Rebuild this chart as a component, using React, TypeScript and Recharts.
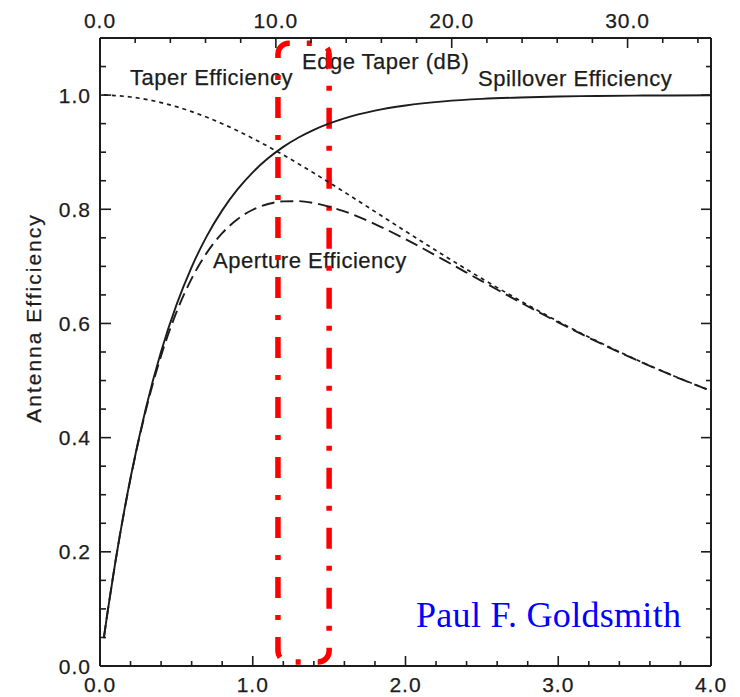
import React from 'react';
import { LineChart, Line, XAxis, YAxis, ReferenceArea } from 'recharts';

// Normalised edge taper parameter (bottom axis)
const alpha = [0.025, 0.05, 0.1, 0.2, 0.3, 0.4, 0.5, 0.6, 0.7, 0.8, 0.9, 1.0, 1.1, 1.2, 1.3, 1.4, 1.6, 1.8, 2.0, 2.25, 2.5, 2.75, 3.0, 3.25, 3.5, 3.75, 4.0];
const spillover = [0.0488, 0.0952, 0.1813, 0.3297, 0.4512, 0.5507, 0.6321, 0.6988, 0.7534, 0.7981, 0.8347, 0.8647, 0.8892, 0.9093, 0.9257, 0.9392, 0.9592, 0.9727, 0.9817, 0.9889, 0.9933, 0.9959, 0.9975, 0.9985, 0.9991, 0.9994, 0.9997];
const taperEff = [1.0, 0.9998, 0.9992, 0.9967, 0.9926, 0.9869, 0.9797, 0.971, 0.9611, 0.9499, 0.9376, 0.9242, 0.91, 0.8951, 0.8795, 0.8634, 0.8301, 0.7959, 0.7616, 0.7194, 0.6786, 0.64, 0.6034, 0.5695, 0.5379, 0.5088, 0.482];
const apertureEff = [0.0488, 0.0951, 0.1811, 0.3286, 0.4478, 0.5434, 0.6193, 0.6786, 0.7241, 0.7581, 0.7826, 0.7992, 0.8092, 0.8139, 0.8142, 0.8109, 0.7962, 0.7741, 0.7476, 0.7114, 0.6741, 0.6373, 0.6019, 0.5686, 0.5374, 0.5085, 0.482];

// Axis ticks
const xMajor = [0, 1, 2, 3, 4];
const xMinor = [0.2, 0.4, 0.6, 0.8, 1.2, 1.4, 1.6, 1.8, 2.2, 2.4, 2.6, 2.8, 3.2, 3.4, 3.6, 3.8];
const dbMajor = [0, 10, 20, 30];
const dbMinor = [2, 4, 6, 8, 12, 14, 16, 18, 22, 24, 26, 28, 32, 34];
const yMajor = [0, 0.2, 0.4, 0.6, 0.8, 1.0];
const yMinor = [0.05, 0.1, 0.15, 0.25, 0.3, 0.35, 0.45, 0.5, 0.55, 0.65, 0.7, 0.75, 0.85, 0.9, 0.95, 1.05];

const DB_PER_ALPHA = 8.686; // edge taper in dB per unit of the bottom-axis parameter
const dbMax = 4 * DB_PER_ALPHA;
const highlightX = [1.165, 1.5];
const highlightY = [0.007, 1.091];

const data = alpha.map((a, i) => ({
  alpha: a,
  spill: spillover[i],
  taper: taperEff[i],
  aper: apertureEff[i],
}));

const INK = '#1c1c1c';
const FONT = '"Liberation Sans", Arial, Helvetica, sans-serif';
const W = 740;
const H = 697;
const M = { top: 37, left: 99, right: 28, bottom: 30 };

const isMajor = (v: number, arr: number[]) => arr.some((m) => Math.abs(m - v) < 1e-6);
const sortAll = (a: number[], b: number[]) => [...a, ...b].sort((p, q) => p - q);

const labelStyle = { fontFamily: FONT, fontSize: 21, letterSpacing: 1, fill: INK, stroke: INK, strokeWidth: 0.25 } as const;

const BottomTick = (p: any) => {
  const v = p.payload.value;
  const maj = isMajor(v, xMajor);
  return (
    <g>
      <line x1={p.x} x2={p.x} y1={p.y} y2={p.y - (maj ? 10 : 5)} stroke={INK} strokeWidth={1.6} />
      {maj && (
        <text x={p.x} y={p.y + 26} textAnchor="middle" {...labelStyle}>
          {v.toFixed(1)}
        </text>
      )}
    </g>
  );
};

const TopTick = (p: any) => {
  const v = p.payload.value;
  const maj = isMajor(v, dbMajor);
  return (
    <g>
      <line x1={p.x} x2={p.x} y1={p.y} y2={p.y + (maj ? 10 : 5)} stroke={INK} strokeWidth={1.6} />
      {maj && (
        <text x={p.x} y={p.y - 10} textAnchor="middle" {...labelStyle}>
          {v.toFixed(1)}
        </text>
      )}
    </g>
  );
};

const LeftTick = (p: any) => {
  const v = p.payload.value;
  const maj = isMajor(v, yMajor);
  return (
    <g>
      <line x1={p.x} x2={p.x + (maj ? 11 : 6)} y1={p.y} y2={p.y} stroke={INK} strokeWidth={1.6} />
      {maj && (
        <text x={p.x - 9} y={p.y + 7.5} textAnchor="end" {...labelStyle}>
          {v.toFixed(1)}
        </text>
      )}
    </g>
  );
};

const RightTick = (p: any) => {
  const v = p.payload.value;
  const maj = isMajor(v, yMajor);
  return (
    <g>
      <line x1={p.x} x2={p.x - (maj ? 10 : 5)} y1={p.y} y2={p.y} stroke={INK} strokeWidth={1.6} />
    </g>
  );
};

const RoundedBox = (p: any) => {
  const { x, y, width: w, height: h } = p;
  const r = 11;
  const d = [
    `M ${x} ${y + r + 3}`,
    `L ${x} ${y + r}`,
    `A ${r} ${r} 0 0 1 ${x + r} ${y}`,
    `L ${x + w - r} ${y}`,
    `A ${r} ${r} 0 0 1 ${x + w} ${y + r}`,
    `L ${x + w} ${y + h - r}`,
    `A ${r} ${r} 0 0 1 ${x + w - r} ${y + h}`,
    `L ${x + r} ${y + h}`,
    `A ${r} ${r} 0 0 1 ${x} ${y + h - r}`,
    `Z`,
  ].join(' ');
  return (
    <path d={d} fill="none" stroke="#ff0000" strokeWidth={5.5} strokeDasharray="21 17 5 17" strokeLinejoin="round" />
  );
};

const annot = { fontFamily: FONT, fontSize: 22, letterSpacing: 0.5, fill: INK, stroke: INK, strokeWidth: 0.25 } as const;

export default function App() {
  return (
    <div style={{ position: 'absolute', left: 0, top: 0, width: W, height: H, background: '#fff' }}>
      <svg width={W} height={H} style={{ position: 'absolute', left: 0, top: 0 }}>
        <text x={130} y={85} {...annot}>Taper Efficiency</text>
        <text x={302} y={69} {...annot}>Edge Taper (dB)</text>
        <text x={478} y={86} {...annot}>Spillover Efficiency</text>
        <text x={213} y={268} {...annot}>Aperture Efficiency</text>
        <text
          transform="translate(41,318) rotate(-90)"
          textAnchor="middle"
          style={{ fontFamily: FONT, fontSize: 21, letterSpacing: 2, fill: INK, stroke: INK, strokeWidth: 0.25 } as any}
        >
          Antenna Efficiency
        </text>
        <text x={416} y={627} fill="#0000ff" style={{ fontFamily: '"Liberation Serif", "Times New Roman", serif', fontSize: 36, letterSpacing: 0.3 }}>
          Paul F. Goldsmith
        </text>
      </svg>
      <div style={{ position: 'absolute', left: 0, top: 0 }}>
        <LineChart width={W} height={H} data={data} margin={M}>
          <XAxis
            xAxisId="a"
            dataKey="alpha"
            type="number"
            domain={[0, 4]}
            allowDataOverflow
            orientation="bottom"
            height={1}
            ticks={sortAll(xMajor, xMinor)}
            interval={0}
            tickSize={0}
            tickMargin={0}
            tickLine={false}
            tick={<BottomTick />}
            axisLine={{ stroke: INK, strokeWidth: 2 }}
          />
          <XAxis
            xAxisId="db"
            dataKey={(d: any) => d.alpha * DB_PER_ALPHA}
            type="number"
            domain={[0, dbMax]}
            allowDataOverflow
            orientation="top"
            height={1}
            ticks={sortAll(dbMajor, dbMinor)}
            interval={0}
            tickSize={0}
            tickMargin={0}
            tickLine={false}
            tick={<TopTick />}
            axisLine={{ stroke: INK, strokeWidth: 2 }}
          />
          <YAxis
            yAxisId="l"
            type="number"
            domain={[0, 1.1]}
            allowDataOverflow
            orientation="left"
            width={1}
            ticks={sortAll(yMajor, yMinor)}
            interval={0}
            tickSize={0}
            tickMargin={0}
            tickLine={false}
            tick={<LeftTick />}
            axisLine={{ stroke: INK, strokeWidth: 2 }}
          />
          <YAxis
            yAxisId="r"
            type="number"
            domain={[0, 1.1]}
            allowDataOverflow
            orientation="right"
            width={1}
            ticks={sortAll(yMajor, yMinor)}
            interval={0}
            tickSize={0}
            tickMargin={0}
            tickLine={false}
            tick={<RightTick />}
            axisLine={{ stroke: INK, strokeWidth: 2 }}
          />
          <Line
            xAxisId="a"
            yAxisId="l"
            dataKey="spill"
            type="monotone"
            stroke={INK}
            strokeWidth={1.9}
            dot={false}
            activeDot={false}
            isAnimationActive={false}
          />
          <Line
            xAxisId="a"
            yAxisId="l"
            dataKey="taper"
            type="monotone"
            stroke={INK}
            strokeWidth={1.7}
            strokeDasharray="4 4"
            dot={false}
            activeDot={false}
            isAnimationActive={false}
          />
          <Line
            xAxisId="a"
            yAxisId="l"
            dataKey="aper"
            type="monotone"
            stroke={INK}
            strokeWidth={1.9}
            strokeDasharray="13 6"
            dot={false}
            activeDot={false}
            isAnimationActive={false}
          />
          <ReferenceArea
            xAxisId="a"
            yAxisId="l"
            x1={highlightX[0]}
            x2={highlightX[1]}
            y1={highlightY[0]}
            y2={highlightY[1]}
            ifOverflow="visible"
            shape={<RoundedBox />}
          />
        </LineChart>
      </div>
    </div>
  );
}
